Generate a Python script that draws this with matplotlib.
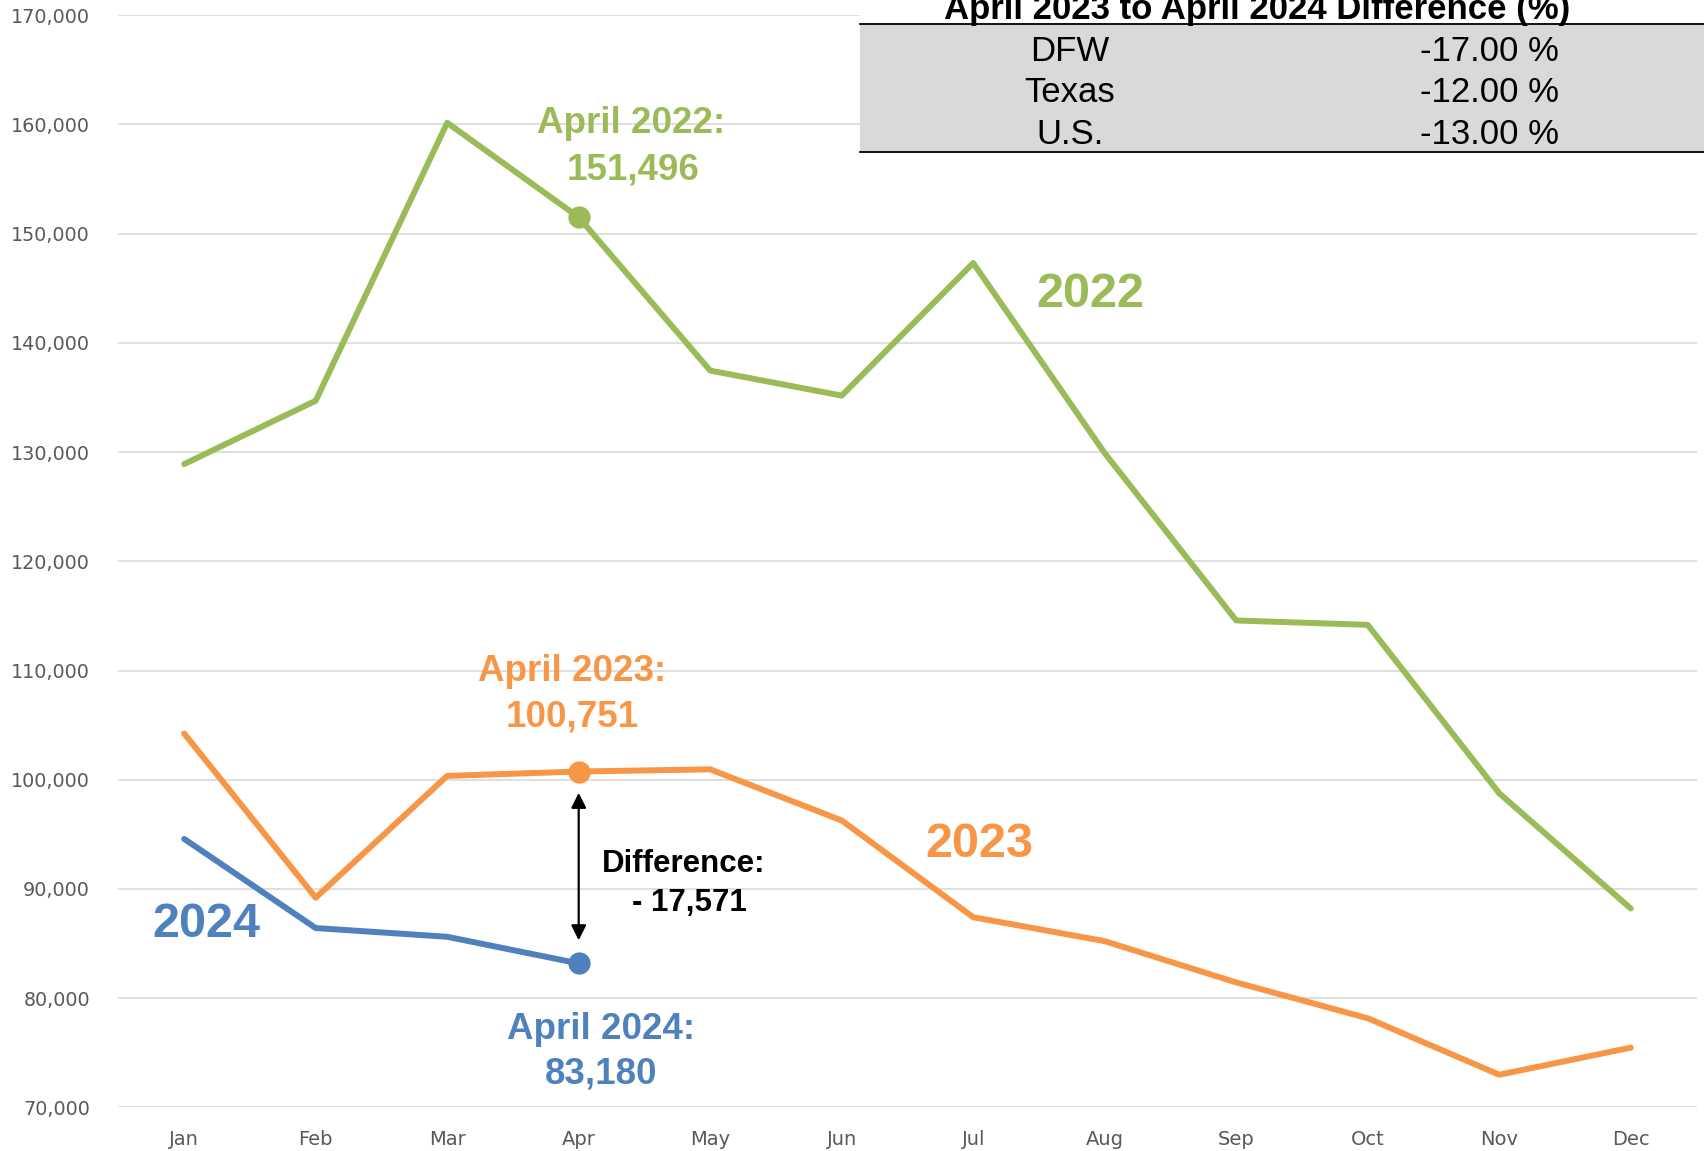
import matplotlib
matplotlib.use("Agg")
import matplotlib.pyplot as plt
from matplotlib.patches import Rectangle
from matplotlib.lines import Line2D
from matplotlib.ticker import FuncFormatter

plt.rcParams['font.family'] = ['Liberation Sans', 'DejaVu Sans']

months = ['Jan', 'Feb', 'Mar', 'Apr', 'May', 'Jun', 'Jul', 'Aug', 'Sep', 'Oct', 'Nov', 'Dec']
sales_2022 = [128900, 134700, 160150, 151496, 137460, 135170, 147310, 129900, 114580, 114180, 98760, 88210]
sales_2023 = [104230, 89200, 100350, 100751, 100950, 96270, 87410, 85220, 81440, 78160, 72990, 75470]
sales_2024 = [94580, 86420, 85620, 83180]

table_rows = ['DFW', 'Texas', 'U.S.']
table_vals = ['-17.00 %', '-12.00 %', '-13.00 %']
table_title = 'April 2023 to April 2024 Difference (%)'

green = '#9BBB59'
orange = '#F79646'
blue = '#4F81BD'
grey_txt = '#595959'

fig = plt.figure(figsize=(17.04, 11.51), dpi=100)
ax = fig.add_axes([0.0695, 0.0379, 0.9261, 0.9489])

x = list(range(len(months)))
ax.plot(x, sales_2022, color=green, lw=4.3, solid_capstyle='round', zorder=3)
ax.plot(x, sales_2023, color=orange, lw=4.3, solid_capstyle='round', zorder=3)
ax.plot(x[:len(sales_2024)], sales_2024, color=blue, lw=4.3, solid_capstyle='round', zorder=3)

# April markers
apr = 3
ax.plot(apr, sales_2022[apr], 'o', color=green, ms=15, zorder=4)
ax.plot(apr, sales_2023[apr], 'o', color=orange, ms=15, zorder=4)
ax.plot(apr, sales_2024[apr], 'o', color=blue, ms=15, zorder=4)

ax.set_xlim(-0.5, 11.5)
ax.set_ylim(70000, 170000)
ax.set_yticks(range(70000, 170001, 10000))
ax.yaxis.set_major_formatter(FuncFormatter(lambda v, p: f'{int(v):,}'))
ax.set_xticks(x)
ax.set_xticklabels(months)
ax.grid(axis='y', color='#d9d9d9', lw=1.2, zorder=0)
ax.set_axisbelow(True)
for s in ax.spines.values():
    s.set_visible(False)
ax.tick_params(axis='both', length=0, colors=grey_txt)
ax.tick_params(axis='y', pad=20.5, labelsize=13.8, labelfontfamily='DejaVu Sans')
ax.tick_params(axis='x', pad=16.5, labelsize=14, labelfontfamily='DejaVu Sans')

# value callouts
bold = dict(ha='center', va='center', fontweight='bold')
ax.text(3.40, 160050, 'April 2022:', color=green, fontsize=26.5, **bold)
ax.text(3.41, 155870, f'{sales_2022[apr]:,}', color=green, fontsize=26.5, **bold)
ax.text(2.95, 109900, 'April 2023:', color=orange, fontsize=26.5, **bold)
ax.text(2.95, 105720, f'{sales_2023[apr]:,}', color=orange, fontsize=26.5, **bold)
ax.text(3.17, 77160, 'April 2024:', color=blue, fontsize=26.5, **bold)
ax.text(3.17, 73080, f'{sales_2024[apr]:,}', color=blue, fontsize=26.5, **bold)

# year tags
ax.text(0.17, 86710, '2024', color=blue, fontsize=35, **bold)
ax.text(6.89, 144430, '2022', color=green, fontsize=35, **bold)
ax.text(6.05, 94080, '2023', color=orange, fontsize=35, **bold)

# difference arrow
diff = sales_2024[apr] - sales_2023[apr]
ax.annotate('', xy=(apr, 98800), xytext=(apr, 85300),
            arrowprops=dict(arrowstyle='<|-|>,head_length=0.9,head_width=0.45',
                            color='black', lw=1.6, shrinkA=0, shrinkB=0), zorder=5)
ax.text(3.80, 92290, 'Difference:', color='black', fontsize=22.5, **bold)
ax.text(3.84, 88700, f'- {abs(diff):,}', color='black', fontsize=22.5, **bold)

# comparison table, top right
fig.add_artist(Rectangle((0.5047, 0.9791), 0.4953, 0.0209, transform=fig.transFigure,
                         facecolor='white', edgecolor='none', zorder=5))
fig.add_artist(Rectangle((0.5047, 0.8679), 0.4953, 0.1112, transform=fig.transFigure,
                         facecolor='#d9d9d9', edgecolor='none', zorder=5))
for yl in (0.9791, 0.8679):
    fig.add_artist(Line2D([0.5047, 1.0], [yl, yl], transform=fig.transFigure,
                          color='black', lw=1.3, zorder=6))
fig.text(0.7377, 0.9839, table_title, ha='center', va='baseline',
         fontsize=25, fontweight='bold', zorder=7)
row_y = [0.9471, 0.9112, 0.8752]
for name, val, yy in zip(table_rows, table_vals, row_y):
    fig.text(0.6279, yy, name, ha='center', va='baseline', fontsize=25, zorder=7)
    fig.text(0.9149, yy, val, ha='right', va='baseline', fontsize=25, zorder=7)

fig.savefig('out.png', dpi=100)
